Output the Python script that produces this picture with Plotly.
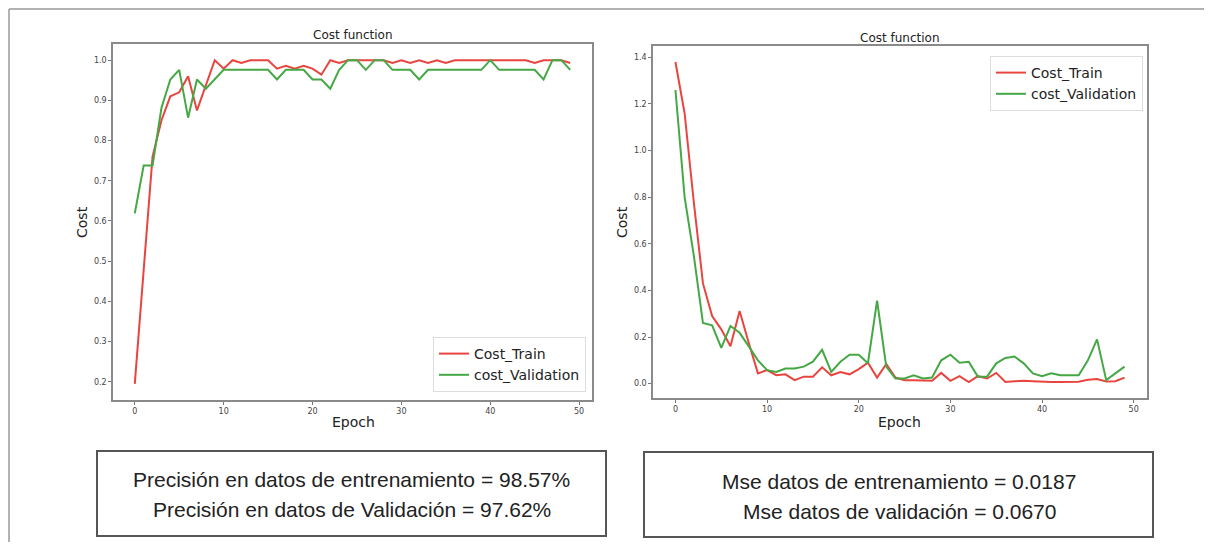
import plotly.graph_objects as go

# Page is rendered with an 8px body margin; figure is sized so the page is 1212x550.
OFF = 8
W, H = 1212 - 2 * OFF, 550 - 2 * OFF

epochs = list(range(50))

acc_train = [0.195, 0.48, 0.76, 0.85, 0.91, 0.92, 0.96, 0.875, 0.935, 1.0,
             0.979, 1.0, 0.993, 1.0, 1.0, 1.0, 0.979, 0.986, 0.979, 0.986,
             0.979, 0.964, 1.0, 0.993, 1.0, 1.0, 1.0, 1.0, 1.0, 0.993,
             1.0, 0.993, 1.0, 0.993, 1.0, 0.993, 1.0, 1.0, 1.0, 1.0,
             1.0, 1.0, 1.0, 1.0, 1.0, 0.993, 1.0, 1.0, 1.0, 0.993]
acc_val = [0.619, 0.738, 0.738, 0.881, 0.952, 0.976, 0.857, 0.952, 0.929, 0.952,
           0.976, 0.976, 0.976, 0.976, 0.976, 0.976, 0.952, 0.976, 0.976, 0.976,
           0.952, 0.952, 0.929, 0.976, 1.0, 1.0, 0.976, 1.0, 1.0, 0.976,
           0.976, 0.976, 0.952, 0.976, 0.976, 0.976, 0.976, 0.976, 0.976, 0.976,
           1.0, 0.976, 0.976, 0.976, 0.976, 0.976, 0.952, 1.0, 1.0, 0.976]

mse_train = [1.38, 1.16, 0.78, 0.43, 0.29, 0.233, 0.16, 0.312, 0.174, 0.044,
             0.058, 0.036, 0.04, 0.015, 0.03, 0.03, 0.07, 0.036, 0.05, 0.04,
             0.062, 0.09, 0.026, 0.084, 0.026, 0.015, 0.015, 0.015, 0.012, 0.046,
             0.012, 0.032, 0.007, 0.032, 0.022, 0.046, 0.007, 0.01, 0.012, 0.01,
             0.007, 0.007, 0.007, 0.007, 0.008, 0.017, 0.02, 0.009, 0.01, 0.026]
mse_val = [1.26, 0.80, 0.55, 0.26, 0.25, 0.153, 0.247, 0.218, 0.16, 0.1,
           0.058, 0.05, 0.065, 0.065, 0.073, 0.094, 0.145, 0.05, 0.094, 0.124,
           0.124, 0.087, 0.356, 0.073, 0.022, 0.022, 0.036, 0.022, 0.026, 0.1,
           0.124, 0.09, 0.094, 0.03, 0.03, 0.087, 0.11, 0.116, 0.087, 0.044,
           0.032, 0.044, 0.036, 0.036, 0.036, 0.1, 0.19, 0.015, 0.044, 0.073]

left_ticks = [0.2, 0.3, 0.4, 0.5, 0.6, 0.7, 0.8, 0.9, 1.0]
right_ticks = [0.0, 0.2, 0.4, 0.6, 0.8, 1.0, 1.2, 1.4]
x_ticks = [0, 10, 20, 30, 40, 50]

name_train = "Cost_Train"
name_val = "cost_Validation"
title_text = "Cost function"
xlabel = "Epoch"
ylabel = "Cost"
box_left = ["Precisión en datos de entrenamiento = 98.57%",
            "Precisión en datos de Validación = 97.62%"]
box_right = ["Mse datos de entrenamiento = 0.0187",
             "Mse datos de validación = 0.0670"]

RED = "#e8453f"
GREEN = "#45a845"


def px(x):
    return (x - OFF) / W


def py(y):
    return 1 - (y - OFF) / H


def padded(a, b):
    lo = min(min(a), min(b))
    hi = max(max(a), max(b))
    m = 0.05 * (hi - lo)
    return [lo - m, hi + m]


fig = go.Figure()
fig.add_trace(go.Scatter(x=epochs, y=acc_train, mode="lines", name=name_train,
                         line=dict(color=RED, width=2), xaxis="x", yaxis="y", legend="legend"))
fig.add_trace(go.Scatter(x=epochs, y=acc_val, mode="lines", name=name_val,
                         line=dict(color=GREEN, width=2), xaxis="x", yaxis="y", legend="legend"))
fig.add_trace(go.Scatter(x=epochs, y=mse_train, mode="lines", name=name_train,
                         line=dict(color=RED, width=2), xaxis="x2", yaxis="y2", legend="legend2"))
fig.add_trace(go.Scatter(x=epochs, y=mse_val, mode="lines", name=name_val,
                         line=dict(color=GREEN, width=2), xaxis="x2", yaxis="y2", legend="legend2"))

tickfont = dict(family="DejaVu Sans", size=8, color="#444")
axis_common = dict(showline=True, mirror=True, linecolor="#8a8a8a", linewidth=1.5,
                   showgrid=False, zeroline=False, ticks="outside", ticklen=3,
                   tickcolor="#777", tickfont=tickfont)

legend_font = dict(family="DejaVu Sans", size=14, color="#222")
fig.update_layout(
    width=W, height=H,
    margin=dict(l=0, r=0, t=0, b=0),
    paper_bgcolor="white", plot_bgcolor="white",
    xaxis=dict(domain=[px(113), px(592)], range=[-2.45, 51.45], tickvals=x_ticks,
               anchor="y", **axis_common),
    yaxis=dict(domain=[py(400), py(44)], range=padded(acc_train, acc_val),
               tickvals=left_ticks, tickformat=".1f", anchor="x", **axis_common),
    xaxis2=dict(domain=[px(653), px(1147)], range=[-2.45, 51.45], tickvals=x_ticks,
                anchor="y2", **axis_common),
    yaxis2=dict(domain=[py(398), py(46)], range=padded(mse_train, mse_val),
                tickvals=right_ticks, tickformat=".1f", anchor="x2", **axis_common),
    legend=dict(x=px(586), y=py(392), xanchor="right", yanchor="bottom",
                bgcolor="rgba(255,255,255,0.9)", bordercolor="#dddddd", borderwidth=1,
                font=legend_font, tracegroupgap=0, itemwidth=30),
    legend2=dict(x=px(1143), y=py(56), xanchor="right", yanchor="top",
                 bgcolor="rgba(255,255,255,0.9)", bordercolor="#dddddd", borderwidth=1,
                 font=legend_font, tracegroupgap=0, itemwidth=30),
    showlegend=True,
)

ann = []
title_font = dict(family="DejaVu Sans", size=12, color="#222")
label_font = dict(family="DejaVu Sans", size=14, color="#222")


def add_text(text, x, y, font, angle=0):
    ann.append(dict(text=text, x=px(x), y=py(y), xref="paper", yref="paper",
                    xanchor="center", yanchor="middle", showarrow=False,
                    textangle=angle, font=font))


add_text(title_text, 353, 35, title_font)
add_text(title_text, 900, 38, title_font)
add_text(ylabel, 82, 222, label_font, -90)
add_text(ylabel, 622, 222, label_font, -90)
add_text(xlabel, 354, 422, label_font)
add_text(xlabel, 900, 422, label_font)

box_font = dict(family="Liberation Sans, Arial, sans-serif", size=21, color="#222")
for i, t in enumerate(box_left):
    add_text(t, 352, 479 + 30 * i, box_font)
for i, t in enumerate(box_right):
    add_text(t, 899, 481 + 30 * i, box_font)
fig.update_layout(annotations=ann)

shapes = []
# outer frame: only top and left edges are visible in the reference
shapes.append(dict(type="line", xref="paper", yref="paper", x0=px(9), x1=px(1240),
                   y0=py(9), y1=py(9), line=dict(color="#999", width=1.5)))
shapes.append(dict(type="line", xref="paper", yref="paper", x0=px(9), x1=px(9),
                   y0=py(9), y1=py(580), line=dict(color="#999", width=1.5)))
shapes.append(dict(type="rect", xref="paper", yref="paper", x0=px(97), x1=px(606),
                   y0=py(536), y1=py(451), line=dict(color="#555", width=2)))
shapes.append(dict(type="rect", xref="paper", yref="paper", x0=px(644), x1=px(1153),
                   y0=py(537), y1=py(452), line=dict(color="#555", width=2)))
fig.update_layout(shapes=shapes)

fig.write_html("out.html")
